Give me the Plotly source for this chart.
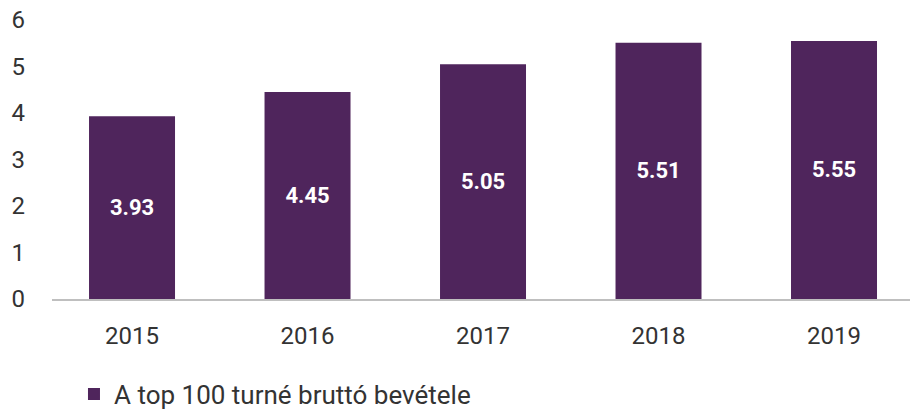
import plotly.graph_objects as go

years = ["2015", "2016", "2017", "2018", "2019"]
values = [3.93, 4.45, 5.05, 5.51, 5.55]
labels = ["3.93", "4.45", "5.05", "5.51", "5.55"]
series_name = "A top 100 turné bruttó bevétele"
y_ticks = [0, 1, 2, 3, 4, 5, 6]

bar_color = "#4F255C"
text_color = "#333333"

fig = go.Figure()
fig.add_trace(go.Bar(
    x=years, y=values, name=series_name,
    marker=dict(color=bar_color, line=dict(width=0)),
    width=0.49,
    text=labels, textposition="inside", insidetextanchor="middle",
    textfont=dict(family="Roboto", size=22, color="white", weight="bold"),
    textangle=0,
))

fig.update_layout(
    width=910, height=410,
    margin=dict(l=52, r=0, t=20, b=111, autoexpand=False),
    plot_bgcolor="white", paper_bgcolor="white",
    font=dict(family="Roboto", size=24, color=text_color),
    showlegend=True,
    legend=dict(orientation="h", xref="container", yref="container",
                x=0.0813, xanchor="left", y=0.039, yanchor="middle",
                font=dict(size=26, color=text_color)),
    bargap=0.51,
)
fig.update_xaxes(type="category", range=[-0.456, 4.433], showline=True,
                 linecolor="#BFBFBF", linewidth=2, ticks="", showgrid=False,
                 tickfont=dict(size=24), automargin=False, ticklabelstandoff=14)
fig.update_yaxes(range=[0, 6], tickvals=y_ticks, showgrid=False, zeroline=False,
                 showline=False, ticks="", ticklabelstandoff=26,
                 tickfont=dict(size=24), automargin=False)

fig.write_html("out.html", config={"displayModeBar": False},
               post_script="document.body.style.margin='0px';")
